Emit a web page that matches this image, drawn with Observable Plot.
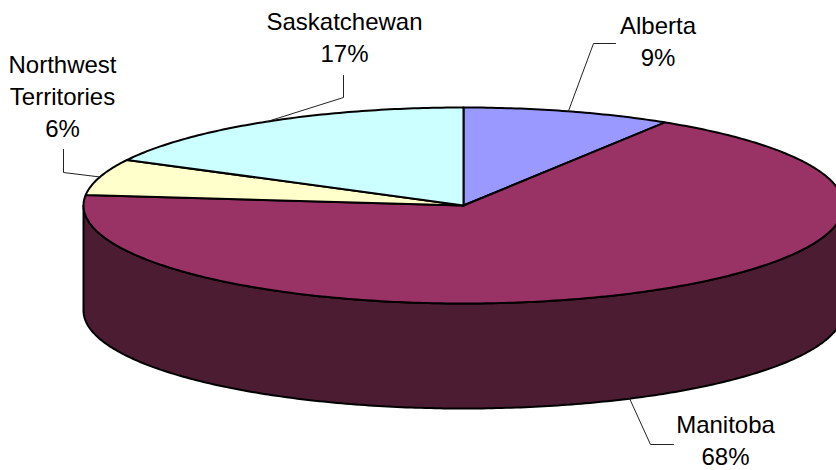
<!DOCTYPE html>
<html>
<head>
<meta charset="utf-8">
<style>html,body{margin:0;padding:0;background:#fff;overflow:hidden}svg{display:block}</style>
<script src="https://cdn.jsdelivr.net/npm/d3@7"></script>
<script src="https://cdn.jsdelivr.net/npm/@observablehq/plot@0.6"></script>
</head>
<body>
<div id="chart"></div>
<script>
// Data, clockwise from 12 o'clock
const provinces = ["Alberta", "Manitoba", "Northwest\nTerritories", "Saskatchewan"];
const shares = [8.9, 67.8, 6, 17.3];
const shareLabels = ["9%", "68%", "6%", "17%"];
const sliceColors = ["#9999FF", "#993366", "#FFFFCC", "#CCFFFF"];
const wallColor = "#4C1C33";

// Pie projection and label layout
const cx = 463, cy = 205, rx = 380, ry = 98, depth = 105;
const wallSlices = [false, true, false, false];
const labelPos = [[657.5, 39], [725, 438], [62, 94], [344, 35]];
const elbows = [[[593, 43], [615, 43]], [[650, 444], [673, 444]], [[63, 172], [63, 149]], [[343, 97], [343, 75]]];

const rim = (share, drop = 0) => {
  const a = share / 100 * 2 * Math.PI;
  return {x: cx + rx * Math.sin(a), y: cy - ry * Math.cos(a) + drop};
};
const arc = (from, to, drop = 0) => d3.range(from, to, 0.2).concat(to).map((s) => rim(s, drop));

const cumulative = d3.cumsum(shares);
const slices = provinces.map((name, i) => {
  const start = i ? cumulative[i - 1] : 0;
  const end = cumulative[i];
  const center = {x: cx, y: cy};
  return {name, i, start, end, mid: (start + end) / 2, points: [center, ...arc(start, end), center]};
});

const lower = arc(25, 75, depth);
const upper = arc(25, 75).reverse();
const wall = [...lower, ...upper, lower[0]];

const lineDrop = (s) => (wallSlices[s.i] ? depth : 0);
const leaders = slices.map((s) => [rim(s.mid, lineDrop(s)), ...elbows[s.i].map(([x, y]) => ({x, y}))]);
const labels = slices.map((s) => ({
  text: `${s.name}\n${shareLabels[s.i]}`,
  x: labelPos[s.i][0],
  y: labelPos[s.i][1]
}));

const chart = Plot.plot({
  width: 836,
  height: 470,
  margin: 0,
  x: {axis: null, domain: [0, 836], range: [0, 836]},
  y: {axis: null, domain: [0, 470], range: [0, 470]},
  style: {background: "#fff", fontFamily: "'Liberation Sans', Arial, sans-serif"},
  marks: [
    Plot.line(wall, {x: "x", y: "y", fill: wallColor, stroke: "#000", strokeWidth: 2}),
    ...slices.map((s) =>
      Plot.line(s.points, {x: "x", y: "y", fill: sliceColors[s.i], stroke: "#000", strokeWidth: 2})
    ),
    ...leaders.map((pts) => Plot.line(pts, {x: "x", y: "y", stroke: "#222", strokeWidth: 1})),
    Plot.text(labels, {
      x: "x", y: "y", text: "text",
      fontSize: 24, lineHeight: 1.33, fill: "#000", textAnchor: "middle", lineAnchor: "middle"
    })
  ]
});
document.getElementById("chart").append(chart);
</script>
</body>
</html>
